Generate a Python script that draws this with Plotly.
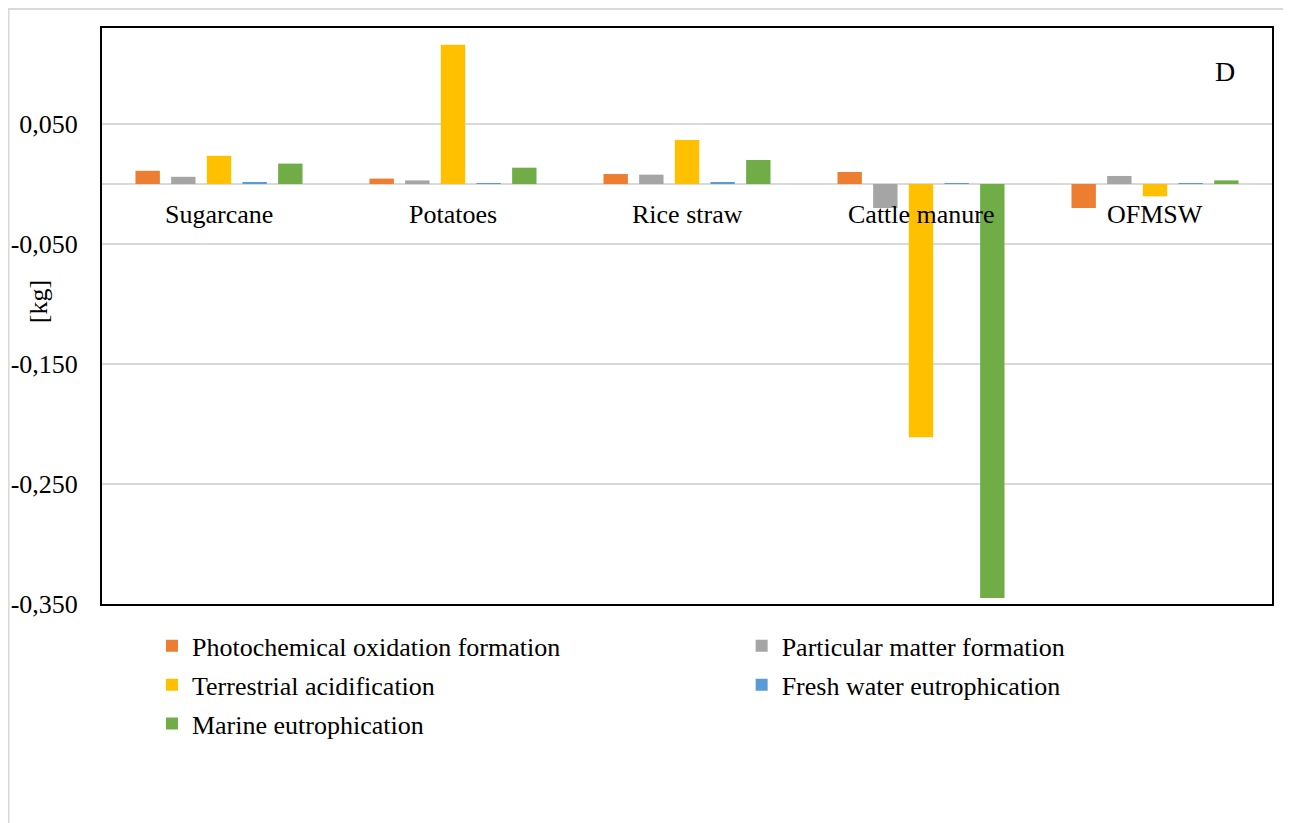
import plotly.graph_objects as go

categories = ["Sugarcane", "Potatoes", "Rice straw", "Cattle manure", "OFMSW"]
series_names = [
    "Photochemical oxidation formation",
    "Particular matter formation",
    "Terrestrial acidification",
    "Fresh water eutrophication",
    "Marine eutrophication",
]
photochemical = [0.011, 0.0045, 0.0083, 0.010, -0.020]
particulate = [0.006, 0.003, 0.0078, -0.020, 0.0067]
terrestrial = [0.0235, 0.116, 0.0367, -0.211, -0.0103]
freshwater = [0.001, 0.0005, 0.001, 0.0005, 0.0005]
marine = [0.017, 0.0136, 0.020, -0.345, 0.003]
colors = ["#ED7D31", "#A5A5A5", "#FFC000", "#5B9BD5", "#70AD47"]
legend_ids = ["legend", "legend2", "legend", "legend2", "legend"]
y_ticks = [0.05, -0.05, -0.15, -0.25, -0.35]
y_ticktext = [f"{v:.3f}".replace(".", ",") for v in y_ticks]

FONT = "Liberation Serif"
FS = 26

fig = go.Figure()
for name, vals, col, lg in zip(series_names,
                               [photochemical, particulate, terrestrial, freshwater, marine],
                               colors, legend_ids):
    fig.add_trace(go.Bar(x=categories, y=vals, name=name, legend=lg,
                         legendgroup=name,
                         marker=dict(color=col, line=dict(width=0))))

for c in categories:
    fig.add_annotation(x=c, y=0, xref="x", yref="y", text=c, showarrow=False,
                       yanchor="top", xanchor="center", yshift=-14,
                       font=dict(family=FONT, size=FS, color="#000"))

fig.add_annotation(x=-0.0547, y=0.524, xref="paper", yref="paper", text="[kg]",
                   textangle=-90, showarrow=False, xanchor="center", yanchor="middle",
                   font=dict(family=FONT, size=FS, color="#000"))
fig.add_annotation(x=0.96, y=0.924, xref="paper", yref="paper", text="D",
                   showarrow=False, xanchor="center", yanchor="middle",
                   font=dict(family=FONT, size=28, color="#000"))

# outer chart-area border
fig.add_shape(type="rect", xref="paper", yref="paper",
              x0=-0.0799, x1=1.0154, y0=-0.45, y1=1.033,
              line=dict(color="#D9D9D9", width=2), layer="below")

leg_common = dict(orientation="v", xanchor="left", yanchor="top",
                  font=dict(family=FONT, size=FS, color="#000"),
                  itemclick=False, traceorder="grouped", tracegroupgap=2,
                  bgcolor="rgba(0,0,0,0)")

fig.update_layout(
    width=1291, height=823,
    font=dict(family=FONT, size=FS, color="#000"),
    margin=dict(l=94, r=27, t=20, b=227, autoexpand=False),
    paper_bgcolor="white", plot_bgcolor="white",
    barmode="group", bargap=0.238, bargroupgap=0.316,
    showlegend=True,
    legend=dict(x=0.0427, y=-0.032, **leg_common),
    legend2=dict(x=0.5467, y=-0.032, **leg_common),
    xaxis=dict(showticklabels=False, showgrid=False, zeroline=False,
               showline=True, linecolor="#000", linewidth=2, mirror=True,
               ticks="", automargin=False),
    yaxis=dict(range=[-0.35, 0.13], tickvals=y_ticks, ticktext=y_ticktext,
               showgrid=True, gridcolor="#D9D9D9", gridwidth=2,
               zeroline=True, zerolinecolor="#D9D9D9", zerolinewidth=2,
               showline=True, linecolor="#000", linewidth=2, mirror=True,
               ticks="", ticklabelstandoff=17, automargin=False,
               tickfont=dict(family=FONT, size=FS, color="#000")),
)

fig.write_html("out.html")
